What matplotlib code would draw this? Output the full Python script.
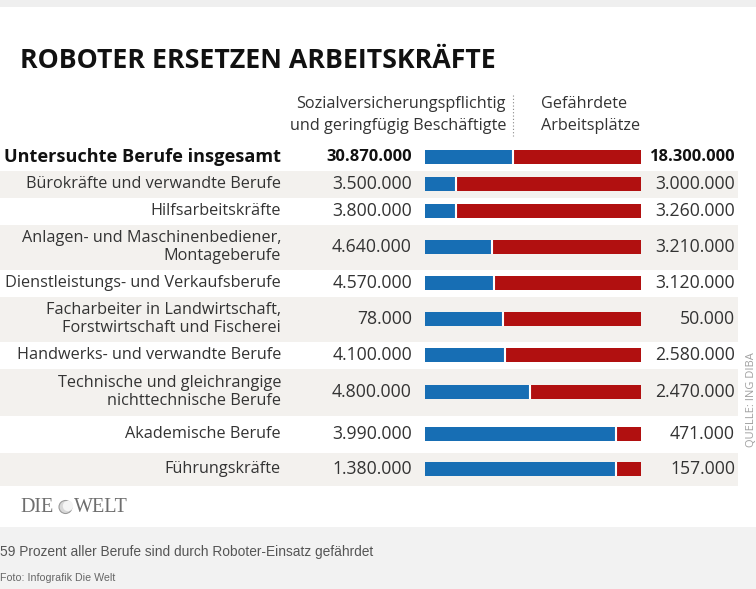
import matplotlib
matplotlib.use("Agg")
import matplotlib.pyplot as plt
from matplotlib.patches import Rectangle, Circle

# ---------------- data ----------------
categories = [
    "Untersuchte Berufe insgesamt",
    "Bürokräfte und verwandte Berufe",
    "Hilfsarbeitskräfte",
    "Anlagen- und Maschinenbediener,\nMontageberufe",
    "Dienstleistungs- und Verkaufsberufe",
    "Facharbeiter in Landwirtschaft,\nForstwirtschaft und Fischerei",
    "Handwerks- und verwandte Berufe",
    "Technische und gleichrangige\nnichttechnische Berufe",
    "Akademische Berufe",
    "Führungskräfte",
]
employees = [30870000, 3500000, 3800000, 4640000, 4570000, 78000,
             4100000, 4800000, 3990000, 1380000]
endangered = [18300000, 3000000, 3260000, 3210000, 3120000, 50000,
              2580000, 2470000, 471000, 157000]

title = "ROBOTER ERSETZEN ARBEITSKRÄFTE"
header_left = "Sozialversicherungspflichtig\nund geringfügig Beschäftigte"
header_right = "Gefährdete\nArbeitsplätze"
caption = "59 Prozent aller Berufe sind durch Roboter-Einsatz gefährdet"
photo_credit = "Foto: Infografik Die Welt"
source = "QUELLE: ING DIBA"

# ---------------- layout (pixels) ----------------
W, H = 756, 589
row_heights = [27, 27, 27, 45, 27, 45, 27, 47, 37, 33]
rows_top = 143.5
BLUE = "#176eb4"
RED = "#b11010"
BAND = "#f3f1ee"

fig = plt.figure(figsize=(W / 100, H / 100), dpi=100)
ax = fig.add_axes([0, 0, 1, 1])
ax.set_xlim(0, W)
ax.set_ylim(H, 0)
ax.axis("off")

renderer = fig.canvas.get_renderer()


def fit_size(text, target_w, **kw):
    t = ax.text(0, 0, text, fontsize=10, **kw)
    w = t.get_window_extent(renderer).width
    t.remove()
    return 10 * target_w / w


FONT = "Open Sans"

# top & footer bands
ax.add_patch(Rectangle((0, 0), W, 7, color="#efefef", lw=0))
ax.add_patch(Rectangle((0, 527), W, H - 527, color="#f2f2f2", lw=0))

# title
ts = fit_size(title, 477, family=FONT, weight="bold")
ax.text(20, 61, title, fontsize=ts, family=FONT, weight="bold",
        color="#111111", ha="left", va="center")

# headers
hs = fit_size("und geringfügig Beschäftigte", 217, family=FONT)
ax.text(506, 115, header_left, fontsize=hs, family=FONT, color="#333333",
        ha="right", va="center", multialignment="right", linespacing=1.5)
ax.text(541, 115, header_right, fontsize=hs, family=FONT, color="#333333",
        ha="left", va="center", multialignment="left", linespacing=1.5)
ax.plot([513, 513], [95, 136], color="#888888", lw=0.8, ls=(0, (1, 2)))

# rows
centers = []
top = rows_top
for h in row_heights:
    centers.append(top + h / 2)
    top += h

ls_ = fit_size("Bürokräfte und verwandte Berufe", 254, family=FONT)
bs_ = fit_size("Untersuchte Berufe insgesamt", 278, family=FONT, weight="bold")
vs_ = fit_size("3.500.000", 80, family=FONT)
vbs = fit_size("30.870.000", 85, family=FONT, weight="bold")


def fmt(v):
    return f"{v:,}".replace(",", ".")


top = rows_top
for i, (cat, h) in enumerate(zip(categories, row_heights)):
    if i % 2 == 1:
        ax.add_patch(Rectangle((0, top), 738, h, color=BAND, lw=0))
    top += h
    y = centers[i]
    bold = i == 0
    ax.text(281, y, cat, fontsize=bs_ if bold else ls_, family=FONT,
            weight="bold" if bold else "normal",
            color="#111111" if bold else "#333333",
            ha="right", va="center", multialignment="right", linespacing=1.2)
    ax.text(412, y, fmt(employees[i]), fontsize=vbs if bold else vs_,
            family=FONT, weight="bold" if bold else "normal",
            color="#111111" if bold else "#333333", ha="right", va="center")
    ax.text(735, y, fmt(endangered[i]), fontsize=vbs if bold else vs_,
            family=FONT, weight="bold" if bold else "normal",
            color="#111111" if bold else "#333333", ha="right", va="center")

# bars (100% stacked)
bax = fig.add_axes([425 / W, 0, 216 / W, 1])
bax.set_xlim(0, 1)
bax.set_ylim(H, 0)
bax.axis("off")
bax.patch.set_visible(False)
red_frac = [e / t for e, t in zip(endangered, employees)]
blue_frac = [1 - r for r in red_frac]
bax.barh(centers, blue_frac, height=14, color=BLUE, lw=0)
bax.barh(centers, red_frac, left=blue_frac, height=14, color=RED, lw=0)
bax.vlines(blue_frac, [c - 7 for c in centers], [c + 7 for c in centers],
           color="white", lw=1.5)

# logo
ax.text(20, 508, "DIE", family="Liberation Serif", fontsize=14.5,
        color="#6e6e6e", ha="left", va="center")
ax.add_patch(Circle((65.5, 507), 6.5, facecolor="#d8d8d8", edgecolor="#9a9a9a", lw=0.8))
ax.add_patch(Circle((68, 506), 5.2, facecolor="#f4f4f4", edgecolor="none"))
ax.text(74, 508, "WELT", family="Liberation Serif", fontsize=14.5,
        color="#6e6e6e", ha="left", va="center")

# caption and credit
cs = fit_size(caption, 375, family="Liberation Sans")
ax.text(0.5, 552, caption, fontsize=cs, family="Liberation Sans",
        color="#555555", ha="left", va="center")
fs = fit_size(photo_credit, 115, family="Liberation Sans")
ax.text(0.5, 578, photo_credit, fontsize=fs, family="Liberation Sans",
        color="#666666", ha="left", va="center")

# vertical source (at figure edge)
ax.text(751, 400, source, fontsize=8, family=FONT, color="#a0a0a0",
        rotation=90, ha="center", va="center")

fig.savefig("out.png", dpi=100)
